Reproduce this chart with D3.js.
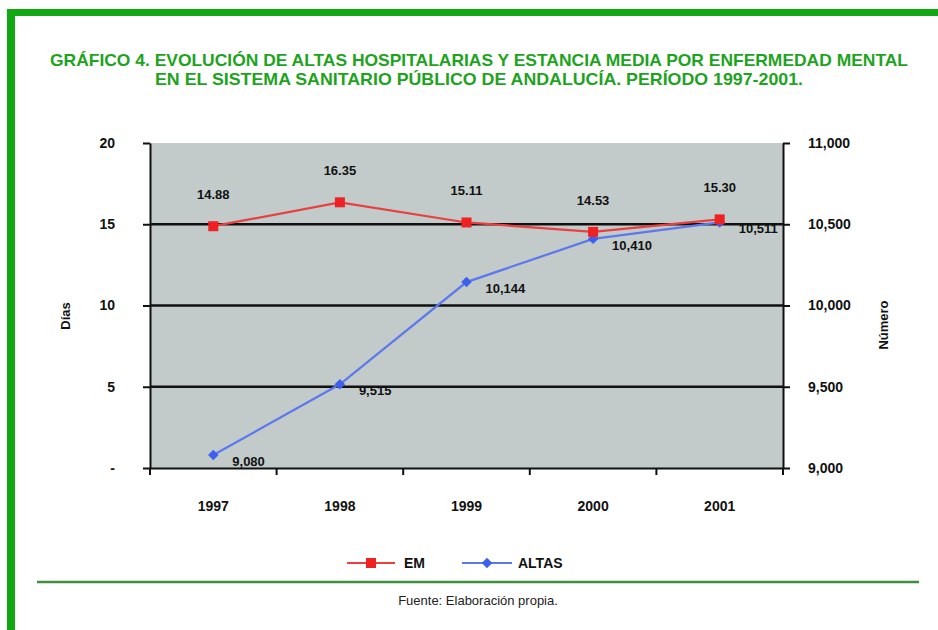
<!DOCTYPE html>
<html>
<head>
<meta charset="utf-8">
<script src="https://cdn.jsdelivr.net/npm/d3@7"></script>
<style>
  html, body { margin: 0; padding: 0; background: #fff; }
  svg { display: block; }
</style>
</head>
<body>
<div id="chart"></div>
<script>
// Years on the category axis
const years = ["1997", "1998", "1999", "2000", "2001"];
// Estancia media (días) – left axis
const emValues = [14.88, 16.35, 15.11, 14.53, 15.30];
// Altas hospitalarias (número) – right axis
const altasValues = [9080, 9515, 10144, 10410, 10511];
// Axis ticks
const leftTicks = [0, 5, 10, 15, 20];
const rightTicks = [9000, 9500, 10000, 10500, 11000];

const titleLines = [
  "GRÁFICO 4. EVOLUCIÓN DE ALTAS HOSPITALARIAS Y ESTANCIA MEDIA POR ENFERMEDAD MENTAL",
  "EN EL SISTEMA SANITARIO PÚBLICO DE ANDALUCÍA. PERÍODO 1997-2001."
];

const W = 938, H = 630;
const plot = { left: 150, right: 783, top: 143, bottom: 468 };
const boldFont = "'Liberation Sans', Arial, sans-serif";
const narrowFont = "'Liberation Sans Narrow', 'Arial Narrow', 'Liberation Sans', sans-serif";

const svg = d3.select("#chart").append("svg")
  .attr("width", W).attr("height", H);

// Green frame (top and left bands)
svg.append("rect").attr("x", 7).attr("y", 9).attr("width", W - 7).attr("height", 7).attr("fill", "#12a812");
svg.append("rect").attr("x", 7).attr("y", 9).attr("width", 8).attr("height", H - 9).attr("fill", "#12a812");

// Title
svg.append("g").selectAll("text").data(titleLines).join("text")
  .attr("x", (d, i) => i === 0 ? 50 : 155)
  .attr("y", (d, i) => 66 + i * 19)
  .attr("textLength", (d, i) => i === 0 ? 858 : 648)
  .attr("lengthAdjust", "spacingAndGlyphs")
  .attr("font-family", narrowFont)
  .attr("font-weight", "bold")
  .attr("font-size", 17)
  .attr("fill", "#1ea31e")
  .text(d => d);

// Scales
const x = d3.scaleBand().domain(years).range([plot.left, plot.right]);
const yL = d3.scaleLinear().domain([0, 20]).range([plot.bottom, plot.top]);
const yR = d3.scaleLinear().domain([9000, 11000]).range([plot.bottom, plot.top]);

// Plot background
svg.append("rect")
  .attr("x", plot.left).attr("y", plot.top)
  .attr("width", plot.right - plot.left).attr("height", plot.bottom - plot.top)
  .attr("fill", "#c2cbca");

// Horizontal gridlines
svg.append("g").selectAll("line").data(leftTicks.filter(t => t > 0 && t < 20)).join("line")
  .attr("x1", plot.left).attr("x2", plot.right)
  .attr("y1", d => yL(d)).attr("y2", d => yL(d))
  .attr("stroke", "#111").attr("stroke-width", 2.4);

// Left axis
const leftAxis = d3.axisLeft(yL).tickValues(leftTicks)
  .tickFormat(d => d === 0 ? "-" : d3.format("d")(d))
  .tickSizeInner(7).tickSizeOuter(0).tickPadding(28);
const gL = svg.append("g").attr("transform", `translate(${plot.left},0)`).call(leftAxis);
gL.select(".domain").attr("stroke", "#111").attr("stroke-width", 2);
gL.selectAll(".tick line").attr("stroke", "#111").attr("stroke-width", 2);
gL.selectAll(".tick text").attr("font-family", boldFont).attr("font-weight", "bold")
  .attr("font-size", 14).attr("fill", "#111");

// Right axis
const rightAxis = d3.axisRight(yR).tickValues(rightTicks)
  .tickFormat(d3.format(","))
  .tickSizeInner(7).tickSizeOuter(0).tickPadding(18);
const gR = svg.append("g").attr("transform", `translate(${plot.right},0)`).call(rightAxis);
gR.select(".domain").attr("stroke", "#111").attr("stroke-width", 2);
gR.selectAll(".tick line").attr("stroke", "#111").attr("stroke-width", 2);
gR.selectAll(".tick text").attr("font-family", boldFont).attr("font-weight", "bold")
  .attr("font-size", 14).attr("fill", "#111");

// Bottom axis: category labels and ticks at band boundaries
const bottomAxis = d3.axisBottom(x).tickSize(0).tickPadding(33);
const gB = svg.append("g").attr("transform", `translate(0,${plot.bottom})`).call(bottomAxis);
gB.select(".domain").attr("stroke", "#111").attr("stroke-width", 2);
gB.selectAll(".tick text").attr("font-family", boldFont).attr("font-weight", "bold")
  .attr("font-size", 14).attr("fill", "#111");
const boundaries = years.map(d => x(d)).concat([x(years[years.length - 1]) + x.bandwidth()]);
gB.selectAll(".bound").data(boundaries).join("line").attr("class", "bound")
  .attr("x1", d => d).attr("x2", d => d).attr("y1", 0).attr("y2", 7)
  .attr("stroke", "#111").attr("stroke-width", 2);

// Axis titles
svg.append("text")
  .attr("transform", "translate(70,316) rotate(-90)")
  .attr("text-anchor", "middle")
  .attr("font-family", boldFont).attr("font-weight", "bold").attr("font-size", 13)
  .attr("fill", "#111").text("Días");
svg.append("text")
  .attr("transform", "translate(888,325) rotate(-90)")
  .attr("text-anchor", "middle")
  .attr("font-family", boldFont).attr("font-weight", "bold").attr("font-size", 13)
  .attr("fill", "#111").text("Número");

const cx = d => x(d) + x.bandwidth() / 2;
const emColor = "#ee2222", altasColor = "#3d5fee";

// ALTAS series
const altasData = years.map((y, i) => ({ year: y, v: altasValues[i] }));
svg.append("path").datum(altasData)
  .attr("fill", "none").attr("stroke", "#5b78ee").attr("stroke-width", 2.2)
  .attr("d", d3.line().x(d => cx(d.year)).y(d => yR(d.v)));
svg.append("g").selectAll("path").data(altasData).join("path")
  .attr("transform", d => `translate(${cx(d.year)},${yR(d.v)})`)
  .attr("d", d3.symbol(d3.symbolDiamond2, 70))
  .attr("fill", altasColor);

// EM series
const emData = years.map((y, i) => ({ year: y, v: emValues[i] }));
svg.append("path").datum(emData)
  .attr("fill", "none").attr("stroke", "#e84040").attr("stroke-width", 2.2)
  .attr("d", d3.line().x(d => cx(d.year)).y(d => yL(d.v)));
svg.append("g").selectAll("rect").data(emData).join("rect")
  .attr("x", d => cx(d.year) - 5).attr("y", d => yL(d.v) - 5)
  .attr("width", 10).attr("height", 10).attr("fill", emColor);

// Data labels
svg.append("g").selectAll("text").data(emData).join("text")
  .attr("x", d => cx(d.year)).attr("y", d => yL(d.v) - 27)
  .attr("text-anchor", "middle")
  .attr("font-family", boldFont).attr("font-weight", "bold").attr("font-size", 13)
  .attr("fill", "#111").text(d => d3.format(".2f")(d.v));
svg.append("g").selectAll("text").data(altasData).join("text")
  .attr("x", d => cx(d.year) + 19).attr("y", d => yR(d.v) + 11)
  .attr("font-family", boldFont).attr("font-weight", "bold").attr("font-size", 13)
  .attr("fill", "#111").text(d => d3.format(",")(d.v));

// Legend
const lg = svg.append("g").attr("transform", "translate(0,563)");
lg.append("line").attr("x1", 347).attr("x2", 395).attr("y1", 0).attr("y2", 0)
  .attr("stroke", "#e84040").attr("stroke-width", 2);
lg.append("rect").attr("x", 366).attr("y", -5).attr("width", 10).attr("height", 10).attr("fill", emColor);
lg.append("text").attr("x", 404).attr("y", 5)
  .attr("font-family", boldFont).attr("font-weight", "bold").attr("font-size", 14)
  .attr("fill", "#111").text("EM");
lg.append("line").attr("x1", 462).attr("x2", 512).attr("y1", 0).attr("y2", 0)
  .attr("stroke", "#5b78ee").attr("stroke-width", 2);
lg.append("path").attr("transform", "translate(487,0)")
  .attr("d", d3.symbol(d3.symbolDiamond2, 70)).attr("fill", altasColor);
lg.append("text").attr("x", 518).attr("y", 5)
  .attr("font-family", boldFont).attr("font-weight", "bold").attr("font-size", 14)
  .attr("fill", "#111").text("ALTAS");

// Separator and source
svg.append("line").attr("x1", 37).attr("x2", 919).attr("y1", 582).attr("y2", 582)
  .attr("stroke", "#3f8f3f").attr("stroke-width", 2.5);
svg.append("text").attr("x", 478).attr("y", 605).attr("text-anchor", "middle")
  .attr("font-family", boldFont).attr("font-size", 13).attr("fill", "#222")
  .text("Fuente: Elaboración propia.");
</script>
</body>
</html>
